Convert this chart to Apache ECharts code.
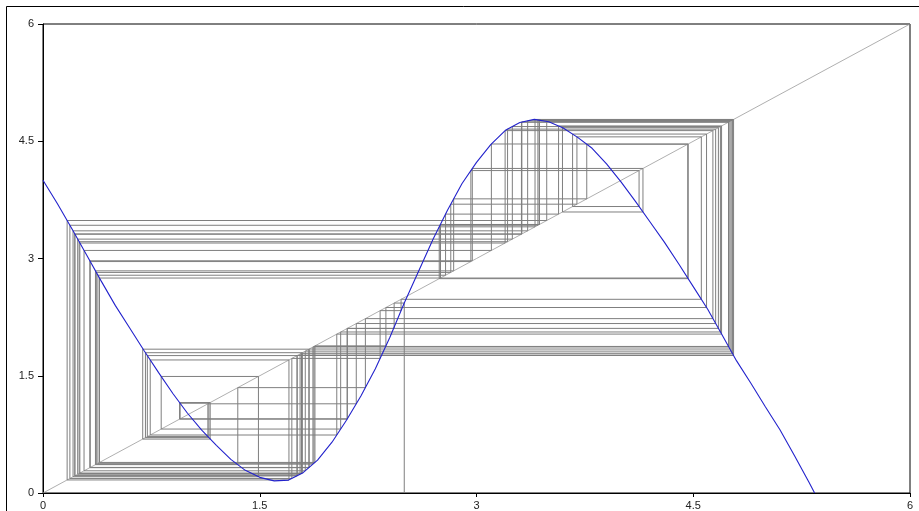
<!DOCTYPE html>
<html><head><meta charset="utf-8">
<script src="https://cdn.jsdelivr.net/npm/echarts/dist/echarts.min.js"></script>
<style>html,body{margin:0;padding:0;background:#fff}#c{width:919px;height:511px}</style>
</head><body><div id="c"></div>
<script>
// Blue map curve
const curveX=[0,0.1,0.2,0.3,0.4,0.5,0.6,0.7,0.8,0.9,1.0,1.1,1.2,1.3,1.4,1.5,1.6,1.7,1.8,1.9,2.0,2.1,2.2,2.3,2.4,2.5,2.6,2.7,2.8,2.9,3.0,3.1,3.2,3.3,3.4,3.5,3.6,3.7,3.8,3.9,4.0,4.1,4.2,4.3,4.4,4.5,4.6,4.7,4.8,4.9,5.0,5.1,5.2,5.3,5.34];
const curveY=[4.00,3.70,3.38,3.05,2.72,2.40,2.11,1.82,1.54,1.27,1.02,0.80,0.61,0.43,0.29,0.20,0.155,0.165,0.26,0.42,0.65,0.93,1.24,1.59,1.99,2.43,2.84,3.25,3.62,3.96,4.23,4.46,4.64,4.74,4.78,4.75,4.67,4.55,4.41,4.21,3.98,3.73,3.47,3.21,2.93,2.64,2.35,2.02,1.69,1.40,1.10,0.81,0.48,0.14,0];
// Iterates of the cobweb (x0 = 2.5)
const orbit=[2.500,2.430,2.105,0.945,1.157,0.690,1.840,0.324,2.971,4.152,3.595,4.674,2.106,
0.949,1.148,0.709,1.795,0.255,3.198,4.636,2.231,1.348,0.363,2.842,3.763,4.462,
2.750,3.435,4.770,1.789,0.250,3.215,4.655,2.168,1.141,0.722,1.758,0.220,3.314,
4.746,1.868,0.369,2.822,3.695,4.556,2.478,2.333,1.722,0.186,3.425,4.773,1.779,
0.240,3.248,4.688,2.060,0.818,1.491,0.208,3.354,4.762,1.815,0.284,3.103,4.465,
2.742,3.405,4.779,1.759,0.221,3.311,4.744,1.875,0.380,2.786,3.568,4.696,2.033,
0.742,1.702,0.167,3.486,4.754,1.842,0.327,2.961,4.125,3.665,4.592,2.373,1.882,
0.391,2.750,3.435,4.770];
// Diagonal y = x
const diagX=[0,6];
const diagY=[0,6];
// Axis ticks
const tickValues=[0,1.5,3,4.5,6];
const tickLabels=['0','1.5','3','4.5','6'];

const cob=[[orbit[0],0]];
for(let i=0;i<orbit.length-1;i++){cob.push([orbit[i],orbit[i+1]]);cob.push([orbit[i+1],orbit[i+1]]);}
function fmt(v){const k=tickValues.indexOf(v);return k>=0?tickLabels[k]:'';}
const axisCommon={type:'value',min:0,max:6,interval:1.5,
  axisLine:{show:true,lineStyle:{color:'#000',width:1}},
  splitLine:{show:false}};
const chart=echarts.init(document.getElementById('c'),null,{renderer:'canvas'});
chart.setOption({animation:false,backgroundColor:'#fff',
grid:{left:43,right:9,top:24,bottom:18,show:true,borderColor:'#000',borderWidth:1,outerBoundsMode:'none'},
xAxis:Object.assign({},axisCommon,{axisTick:{show:true,length:4,lineStyle:{color:'#000'}},
  axisLabel:{color:'#222',fontSize:11,margin:7,fontFamily:'Liberation Sans',formatter:fmt}}),
yAxis:Object.assign({},axisCommon,{axisTick:{show:true,length:5,lineStyle:{color:'#000'}},
  axisLabel:{color:'#222',fontSize:11,margin:9,fontFamily:'Liberation Sans',formatter:fmt}}),
series:[
{type:'line',data:diagX.map((x,i)=>[x,diagY[i]]),showSymbol:false,silent:true,lineStyle:{color:'#9a9a9a',width:0.8},z:1},
{type:'line',data:cob,showSymbol:false,silent:true,lineStyle:{color:'#7f7f7f',width:1},z:2},
{type:'line',data:curveX.map((x,i)=>[x,curveY[i]]),showSymbol:false,silent:true,lineStyle:{color:'#2222cc',width:1.1},z:3}
],
graphic:[{type:'rect',shape:{x:6.5,y:6.5,width:1000,height:1000},style:{fill:'none',stroke:'#000',lineWidth:1},silent:true}]
});
</script></body></html>
